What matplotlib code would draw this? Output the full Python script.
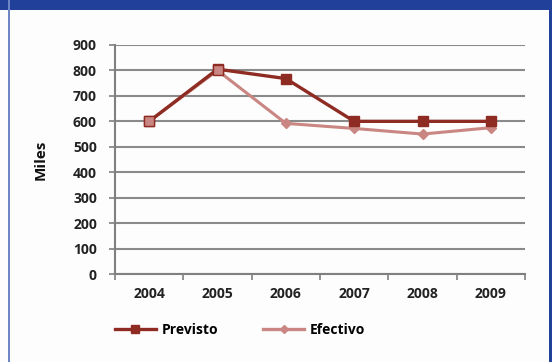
import matplotlib
matplotlib.use("Agg")
import matplotlib.pyplot as plt
from matplotlib.lines import Line2D
from matplotlib.patches import Rectangle
import numpy as np

years = ["2004", "2005", "2006", "2007", "2008", "2009"]
previsto = [600, 805, 768, 600, 600, 600]
efectivo = [600, 800, 592, 572, 550, 575]
yticks = [0, 100, 200, 300, 400, 500, 600, 700, 800, 900]

plt.rcParams['font.family'] = ['Open Sans', 'DejaVu Sans']

fig = plt.figure(figsize=(5.52, 3.62), dpi=100)
fig.patch.set_facecolor('#fdfdfd')

# frame decorations
fig.add_artist(Rectangle((0, 1 - 10/362), 1, 10/362, transform=fig.transFigure,
                         facecolor='#21409a', edgecolor='none'))
fig.add_artist(Rectangle((8/552, 0), 2/552, 1, transform=fig.transFigure,
                         facecolor='#6f86c6', edgecolor='none'))
fig.add_artist(Rectangle((549/552, 0), 3/552, 1, transform=fig.transFigure,
                         facecolor='#21409a', edgecolor='none'))

ax = fig.add_axes([115/552, 88/362, 410/552, 229/362])
ax.set_facecolor('none')
x = np.arange(len(years))

c_prev = '#8e2b22'
c_efec = '#c98682'

ax.plot(x, efectivo, color=c_efec, lw=2.2, marker='D', ms=5, mfc=c_efec, mec=c_efec, zorder=3)
ax.plot(x, previsto, color=c_prev, lw=2.4, marker='s', ms=6.5, mfc=c_prev, mec=c_prev, zorder=4)
ax.plot(x[:2], efectivo[:2], color=c_efec, lw=0, marker='s', ms=6.5, mfc=c_efec, mec=c_prev, zorder=5)

ax.set_xlim(-0.5, len(years) - 0.5)
ax.set_ylim(0, 900)
ax.set_yticks(yticks)
ax.set_yticklabels([str(v) for v in yticks], fontsize=10, fontweight='bold', color='#222222')
ax.set_xticks(x)
ax.set_xticklabels(years, fontsize=10, fontweight='bold', color='#222222')
ax.set_xticks(np.arange(-0.5, len(years), 1), minor=True)
ax.tick_params(axis='x', which='major', length=0, pad=9)
ax.tick_params(axis='x', which='minor', length=4, color='#808080', width=1.2)
ax.tick_params(axis='y', length=4, color='#808080', width=1.2, pad=9)

ax.grid(axis='y', color='#8a8a8a', lw=1.5)
ax.set_axisbelow(True)
for s in ['top', 'right']:
    ax.spines[s].set_visible(False)
for s in ['left', 'bottom']:
    ax.spines[s].set_color('#808080')
    ax.spines[s].set_linewidth(1.5)

ax.set_ylabel('Miles', fontsize=11, fontweight='bold', color='#111111', labelpad=18)

handles = [Line2D([0], [0], color=c_prev, lw=2.4, marker='s', ms=6),
           Line2D([0], [0], color=c_efec, lw=2.4, marker='D', ms=4.5)]
fig.legend(handles, ['Previsto', 'Efectivo'], loc='center left',
           bbox_to_anchor=(102/552, 1 - 330/362), ncol=2, frameon=False,
           handlelength=3.0, columnspacing=3.2, handletextpad=0.4,
           prop={'weight': 'bold', 'size': 10})

fig.savefig('out.png', dpi=100, facecolor=fig.get_facecolor())
